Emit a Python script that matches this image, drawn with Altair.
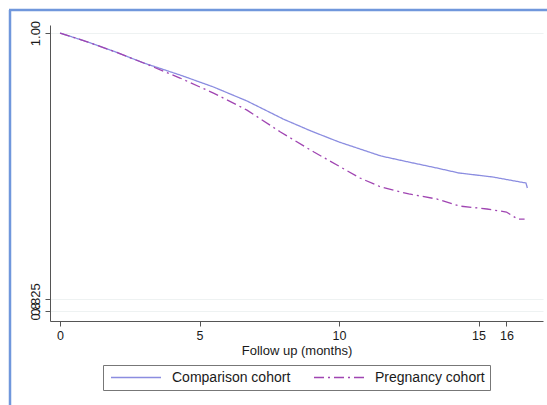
import altair as alt
import pandas as pd

series_names = ["Comparison cohort", "Pregnancy cohort"]

comp_months = [0, 1, 2, 3, 4.3, 5.5, 6.7, 7.5, 8, 9, 10, 10.75, 11.5, 12.5, 13.5, 14.3, 15.5, 16.7, 16.75]
comp_surv = [1.000, 0.9941, 0.9875, 0.9803, 0.9724, 0.9645, 0.9553, 0.9480, 0.9434, 0.9355, 0.9283,
             0.9237, 0.9191, 0.9151, 0.9112, 0.9079, 0.9053, 0.9013, 0.8980]

preg_months = [0, 1, 2, 3, 4.3, 5.5, 6.7, 7.9, 9.1, 10.75, 11.5, 12.5, 13.5, 14.3, 15.3, 16.0, 16.4, 16.65]
preg_surv = [1.000, 0.9941, 0.9875, 0.9803, 0.9704, 0.9605, 0.9493, 0.9349, 0.9217, 0.9046, 0.8987,
             0.8941, 0.8908, 0.8862, 0.8842, 0.8822, 0.8776, 0.8776]

x_ticks = [0, 5, 10, 15, 16]
y_ticks = [0.8171, 0.825, 1.0]
y_tick_labels = ["0.8", "0.825", "1.00"]

colors = ["#8b8de0", "#a045b2"]
dashes = [[1, 0], [10, 4, 2, 4]]

rows = []
for name, ms, ss in [(series_names[0], comp_months, comp_surv), (series_names[1], preg_months, preg_surv)]:
    for i, (m, s) in enumerate(zip(ms, ss)):
        rows.append({"series": name, "months": m, "survival": s, "idx": i})
df = pd.DataFrame(rows)

expr = "''"
for v, lab in zip(y_ticks, y_tick_labels):
    expr = f"abs(datum.value - {v}) < 0.001 ? '{lab}' : " + expr

font = "Liberation Sans"

legend = alt.Legend(
    orient="none", legendX=53, legendY=340, direction="horizontal", title=None,
    symbolType="stroke", symbolSize=2500, symbolStrokeWidth=1.3, clipHeight=15,
    labelFont=font, labelFontSize=14, labelColor="#1a1a1a", labelOffset=10,
    strokeColor="#777", fillColor="white", padding=5, columnPadding=20,
    symbolOffset=2,
)

lines = alt.Chart(df).mark_line(strokeWidth=1.3).encode(
    x=alt.X("months:Q",
            scale=alt.Scale(domain=[-0.36, 17.31], nice=False, zero=False),
            axis=alt.Axis(values=x_ticks, title="Follow up (months)", grid=False,
                          format="d", tickSize=5, labelPadding=3, titlePadding=3,
                          labelFontSize=12.5, titleFontSize=13, titleFontWeight="normal")),
    y=alt.Y("survival:Q",
            scale=alt.Scale(domain=[0.8105, 1.0053], nice=False, zero=False),
            axis=alt.Axis(values=y_ticks, labelExpr=expr, title=None, grid=True,
                          labelOverlap=False, labelAngle=270, tickSize=5, labelPadding=3,
                          labelFontSize=13)),
    color=alt.Color("series:N", scale=alt.Scale(domain=series_names, range=colors), legend=legend),
    strokeDash=alt.StrokeDash("series:N", scale=alt.Scale(domain=series_names, range=dashes), legend=legend),
    order="idx:Q",
)

frame_data = pd.DataFrame({"k": [0]})
frame_v = alt.Chart(frame_data).mark_rule(color="#7097dc", strokeWidth=2.5).encode(
    x=alt.value(-40), y=alt.value(-15), y2=alt.value(400))
frame_h = alt.Chart(frame_data).mark_rule(color="#7097dc", strokeWidth=2.5).encode(
    x=alt.value(-41), x2=alt.value(520), y=alt.value(-15))

chart = alt.layer(lines, frame_v, frame_h).properties(
    width=493, height=296,
    padding={"left": 50, "top": 25, "right": 4, "bottom": 84},
    autosize=alt.AutoSizeParams(type="none"),
    background="white",
).configure_view(stroke=None).configure_axis(
    domainColor="#555", tickColor="#555", labelColor="#1a1a1a", titleColor="#1a1a1a",
    labelFont=font, titleFont=font, gridColor="#eef2f2", domainWidth=1, tickWidth=1,
)

chart.save("out.html", embed_options={"renderer": "svg", "actions": False})
